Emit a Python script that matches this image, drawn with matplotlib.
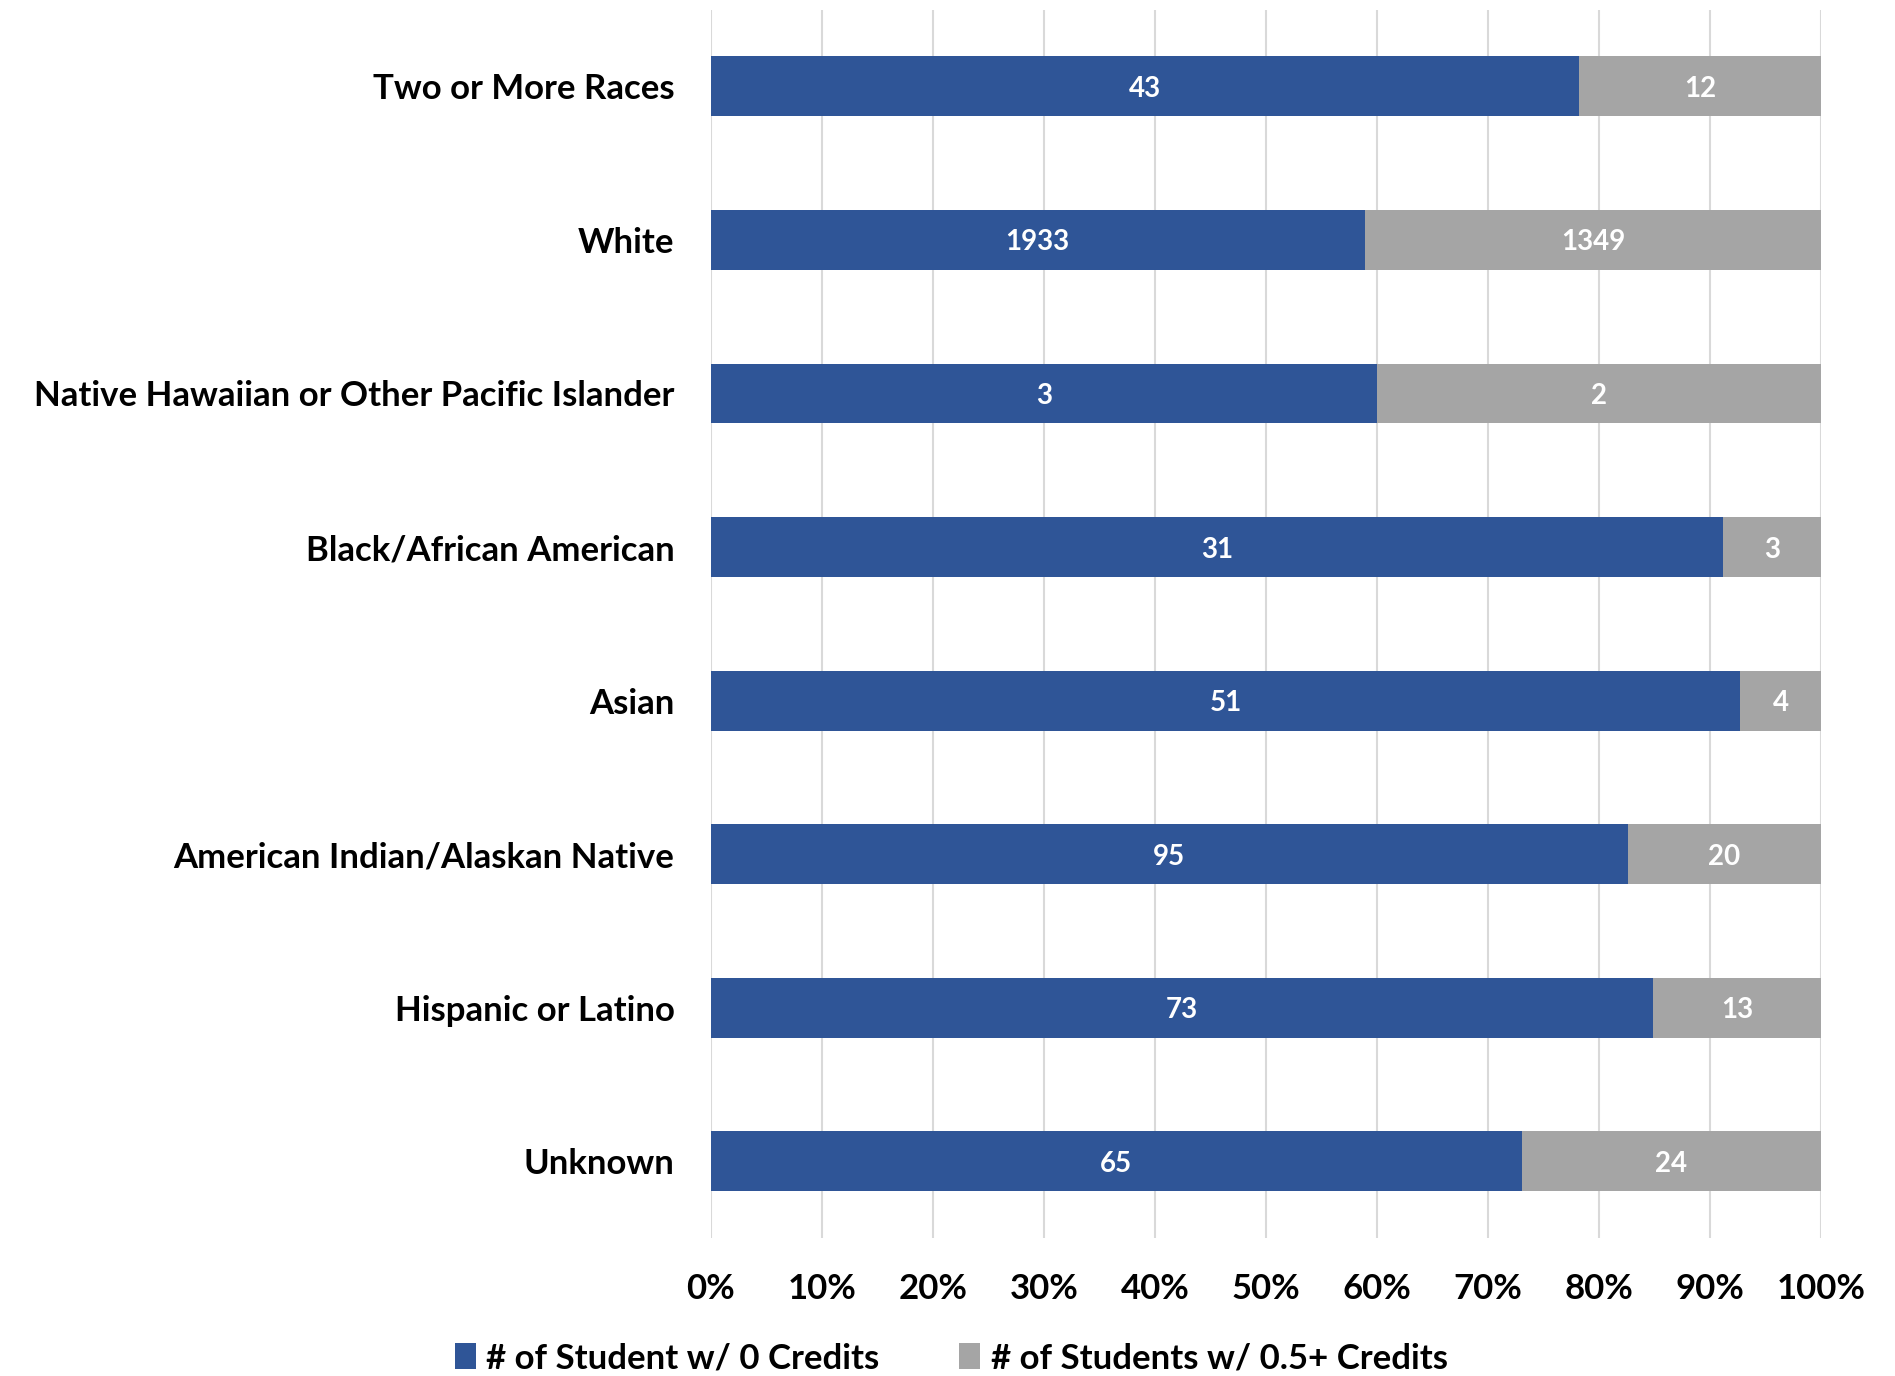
import matplotlib.pyplot as plt
import numpy as np
from matplotlib.ticker import PercentFormatter

plt.rcParams["font.family"] = ["Lato", "DejaVu Sans"]
plt.rcParams["font.weight"] = "bold"

# Categories listed bottom to top
groups = [
    "Unknown",
    "Hispanic or Latino",
    "American Indian/Alaskan Native",
    "Asian",
    "Black/African American",
    "Native Hawaiian or Other Pacific Islander",
    "White",
    "Two or More Races",
]
zero_credits = [65, 73, 95, 51, 31, 3, 1933, 43]
some_credits = [24, 13, 20, 4, 3, 2, 1349, 12]

blue = "#2F5597"
gray = "#A5A5A5"

zero = np.array(zero_credits, dtype=float)
some = np.array(some_credits, dtype=float)
total = zero + some
zero_pct = zero / total * 100
some_pct = some / total * 100

fig = plt.figure(figsize=(18.95, 13.76), dpi=100)
ax = fig.add_axes([0.375, 0.1003, 0.586, 0.8927])

y = np.arange(len(groups))
bar_h = 0.39
b1 = ax.barh(y, zero_pct, height=bar_h, color=blue, label="# of Student w/ 0 Credits", zorder=3)
b2 = ax.barh(y, some_pct, left=zero_pct, height=bar_h, color=gray,
             label="# of Students w/ 0.5+ Credits", zorder=3)

for i in range(len(groups)):
    ax.text(zero_pct[i] / 2, y[i], str(zero_credits[i]), ha="center", va="center_baseline",
            color="white", fontsize=20, fontweight="bold", zorder=4)
    ax.text(zero_pct[i] + some_pct[i] / 2, y[i], str(some_credits[i]), ha="center",
            va="center_baseline", color="white", fontsize=20, fontweight="bold", zorder=4)

ax.set_xlim(0, 100)
ax.set_ylim(-0.5, len(groups) - 0.5)
ax.set_xticks(np.arange(0, 101, 10))
ax.xaxis.set_major_formatter(PercentFormatter(decimals=0))
ax.set_yticks(y)
ax.set_yticklabels(groups)
ax.tick_params(axis="x", length=0, pad=25, labelsize=25)
ax.tick_params(axis="y", length=0, pad=26, labelsize=25)
ax.grid(axis="x", color="#D9D9D9", linewidth=1.5, zorder=0)
for s in ax.spines.values():
    s.set_visible(False)

fig.legend(handles=[b1, b2], loc="center", bbox_to_anchor=(0.502, 0.013), ncol=2,
           frameon=False, fontsize=25, handlelength=0.6, handleheight=0.8,
           handletextpad=0.3, columnspacing=2.3)

fig.savefig("out.png", dpi=100)
